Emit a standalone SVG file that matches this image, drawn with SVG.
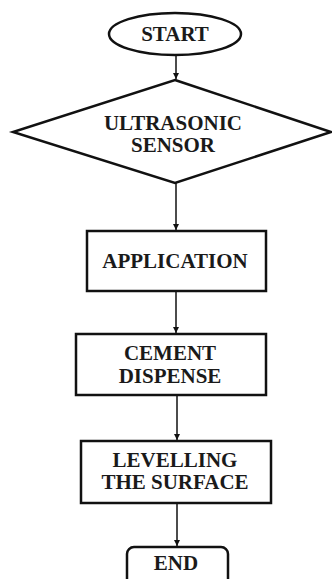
<svg xmlns="http://www.w3.org/2000/svg" width="332" height="579" viewBox="0 0 332 579">
<style>
.shape{fill:#fff;stroke:#111;stroke-width:2.5}
.lbl{font-family:"Liberation Serif","Times New Roman",serif;font-weight:bold;font-size:21px;fill:#1a1a1a;text-anchor:middle}
.conn{stroke:#111;stroke-width:1.5;fill:none;marker-end:url(#ah)}
</style>
<defs>
<marker id="ah" viewBox="0 0 10 10" refX="10" refY="5" markerWidth="6" markerHeight="6" markerUnits="userSpaceOnUse" orient="auto">
<path d="M0,0 L10,5 L0,10 z" fill="#111"/>
</marker>
</defs>
<rect width="332" height="579" fill="#fff"/>
<g id="connectors">
<line class="conn" x1="176" y1="55" x2="176" y2="79"/>
<line class="conn" x1="176" y1="183" x2="176" y2="230"/>
<line class="conn" x1="176" y1="292" x2="176" y2="333"/>
<line class="conn" x1="177" y1="396" x2="177" y2="440"/>
<line class="conn" x1="177" y1="503" x2="177" y2="546"/>
</g>
<g id="start">
<ellipse class="shape" cx="175" cy="34" rx="66" ry="21"/>
<text class="lbl" x="175" y="41">START</text>
</g>
<g id="sensor">
<polygon class="shape" points="175,80 331,132 175,183 13,132"/>
<text class="lbl" x="173" y="130">ULTRASONIC</text>
<text class="lbl" x="173" y="152">SENSOR</text>
</g>
<g id="application">
<rect class="shape" x="87" y="231" width="179" height="60"/>
<text class="lbl" x="175" y="268">APPLICATION</text>
</g>
<g id="cement">
<rect class="shape" x="76" y="334" width="190" height="61"/>
<text class="lbl" x="170" y="360">CEMENT</text>
<text class="lbl" x="170" y="383">DISPENSE</text>
</g>
<g id="levelling">
<rect class="shape" x="81" y="441" width="190" height="62"/>
<text class="lbl" x="175" y="467">LEVELLING</text>
<text class="lbl" x="175" y="489">THE SURFACE</text>
</g>
<g id="end">
<rect class="shape" x="127" y="547" width="101" height="45" rx="7"/>
<text class="lbl" x="176" y="570">END</text>
</g>
</svg>
